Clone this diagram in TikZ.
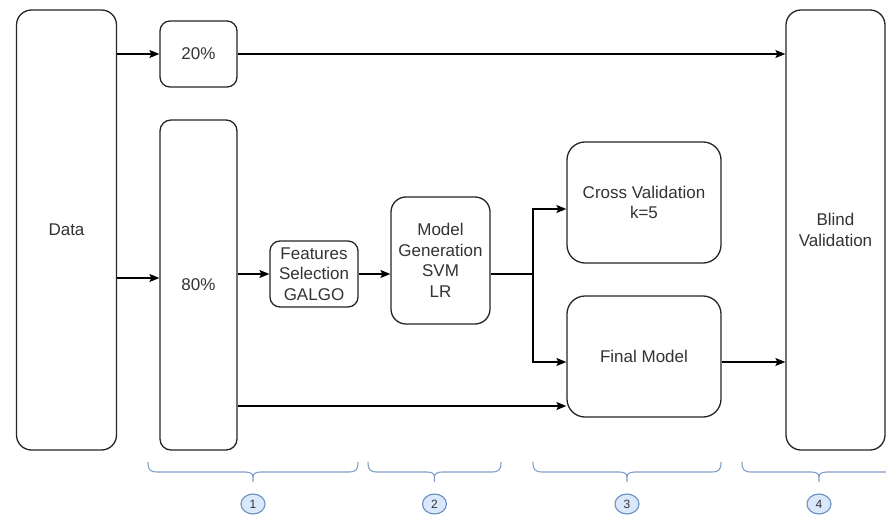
\documentclass[tikz,border=0pt]{standalone}
\usepackage{fontspec}
\setmainfont{Liberation Sans}
\usetikzlibrary{arrows.meta,shapes.geometric}
\definecolor{txt}{HTML}{333333}
\definecolor{bl}{HTML}{6C8EBF}
\definecolor{blfill}{HTML}{DAE8FC}
\begin{document}
\begin{tikzpicture}[x=1pt,y=-1pt,
  box/.style={draw=black!85,line width=1.3pt,fill=white,inner sep=0pt,align=center,
    text=txt,font=\fontsize{17pt}{20.6pt}\selectfont},
  arr/.style={draw=black,line width=1.3pt,-{Stealth[length=10pt,width=8pt,inset=2pt]}},
  ln/.style={draw=black,line width=1.3pt},
  brc/.style={draw=bl!85,line width=1.1pt},
  num/.style={ellipse,draw=bl,fill=blfill,line width=1.1pt,minimum width=24pt,minimum height=20pt,
    inner sep=0pt,text=txt,font=\fontsize{12pt}{14pt}\selectfont}]
\useasboundingbox (0,0) rectangle (886,516);
\fill[white] (0,0) rectangle (886,516);
\begin{scope}
\clip (0,0) rectangle (886,516);
\node[box,rounded corners=15pt,minimum width=100pt,minimum height=440pt] (data) at (66.5,230) {Data};
\node[box,rounded corners=10pt,minimum width=77pt,minimum height=66pt] (p20) at (198.5,54) {20\%};
\node[box,rounded corners=11pt,minimum width=77pt,minimum height=330pt] (p80) at (198.5,285) {80\%};
\node[box,rounded corners=10pt,minimum width=88pt,minimum height=66pt] (feat) at (314,274) {Features\\Selection\\GALGO};
\node[box,rounded corners=15pt,minimum width=99pt,minimum height=127pt] (model) at (440.5,260.5) {Model\\Generation\\SVM\\LR};
\node[box,rounded corners=18pt,minimum width=154pt,minimum height=121pt] (cross) at (644,202.5) {Cross Validation\\k=5};
\node[box,rounded corners=18pt,minimum width=154pt,minimum height=121pt] (final) at (644,356.5) {Final Model};
\node[box,rounded corners=15pt,minimum width=99pt,minimum height=440pt] (blind) at (835.5,230) {Blind\\Validation};

\coordinate (split) at (533,274);
\draw[arr] (data.east |- p20.west) -- (p20.west);
\draw[arr] (data.east |- 0,278) -- (p80.west |- 0,278);
\draw[arr] (p20.east) -- (blind.west |- p20.east);
\draw[arr] (p80.east |- feat.west) -- (feat.west);
\draw[arr] (feat.east) -- (model.west |- feat.east);
\draw[ln] (model.east |- split) -- (split);
\draw[arr] (split) |- (cross.west |- 0,209);
\draw[arr] (split) |- (final.west |- 0,362);
\draw[arr] (p80.east |- 0,406) -- (final.west |- 0,406);
\draw[arr] (final.east |- 0,362) -- (blind.west |- 0,362);

\foreach \a/\b/\n in {148/358/1,368/501/2,533/721/3,742/896/4}{
  \pgfmathsetmacro\c{(\a+\b)/2}
  \draw[brc] (\a,462) .. controls (\a,470) and (\a+2,472) .. (\a+10,472) -- (\c-8,472)
     .. controls (\c-2,472) and (\c,474) .. (\c,477) -- (\c,482);
  \draw[brc] (\b,462) .. controls (\b,470) and (\b-2,472) .. (\b-10,472) -- (\c+8,472)
     .. controls (\c+2,472) and (\c,474) .. (\c,477);
  \node[num] (n\n) at (\c,504) {\n};
}
\end{scope}
\end{tikzpicture}
\end{document}
